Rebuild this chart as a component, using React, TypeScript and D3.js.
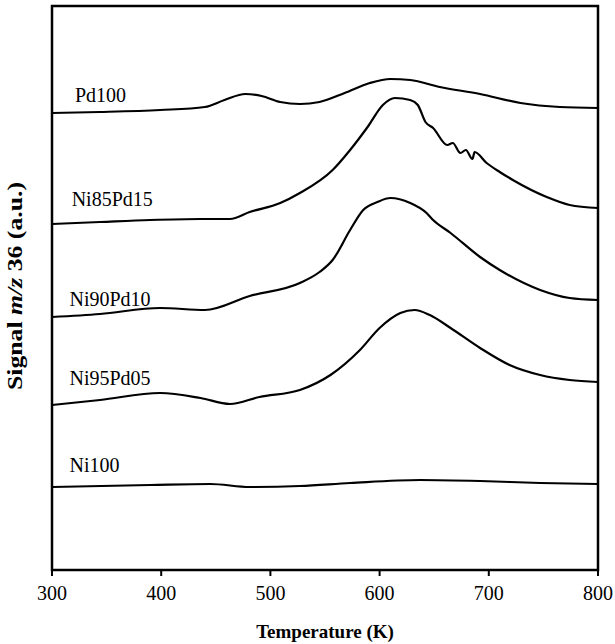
import React from "react";
import * as d3 from "d3";

const xTicks = [300, 400, 500, 600, 700, 800];

const pd100T = [300, 344, 399, 440, 458, 477, 492, 509, 527, 545, 568, 591, 610, 628, 655, 692, 729, 765, 800];
const pd100V = [457, 458, 460, 463, 470, 476, 474, 468, 466, 468, 477, 487, 491, 490, 483, 476, 467, 463, 462];

const ni85T = [300, 344, 390, 436, 463, 481, 509, 527, 557, 573, 589, 603, 614, 628, 635, 642, 649, 662, 667, 674, 679, 685, 687, 698, 710, 722, 753, 774, 800];
const ni85V = [346, 348, 350, 351, 351, 358, 367, 377, 400, 420, 443, 465, 472, 470, 465, 448, 442, 425, 427, 417, 420, 411, 418, 407, 398, 390, 373, 365, 362];

const ni90T = [300, 344, 399, 440, 481, 527, 545, 557, 573, 585, 598, 610, 628, 643, 649, 665, 692, 710, 747, 774, 800];
const ni90V = [253, 256, 262, 260, 274, 287, 298, 310, 340, 360, 368, 372, 367, 357, 350, 337, 313, 300, 280, 272, 270];

const ni95T = [300, 344, 399, 436, 463, 490, 527, 555, 582, 600, 619, 632, 646, 665, 692, 719, 747, 774, 800];
const ni95V = [165, 170, 177, 172, 166, 173, 180, 195, 220, 242, 257, 260, 255, 242, 222, 205, 195, 190, 188];

const ni100T = [300, 390, 445, 481, 527, 573, 637, 692, 747, 800];
const ni100V = [83, 85, 86, 83, 84, 87, 90, 89, 87, 86];

const seriesNames = ["Pd100", "Ni85Pd15", "Ni90Pd10", "Ni95Pd05", "Ni100"];
const seriesT = [pd100T, ni85T, ni90T, ni95T, ni100T];
const seriesV = [pd100V, ni85V, ni90V, ni95V, ni100V];
// label anchor (temperature, signal) for each series label
const labelT = [321, 318, 316, 316, 316];
const labelV = [468, 364, 264, 185, 98];

const W = 615;
const H = 644;
const M = { left: 52, right: 598, top: 6, bottom: 570 };
const FONT = "'Liberation Serif', 'Times New Roman', serif";

export default function App() {
  const x = d3.scaleLinear().domain([300, 800]).range([M.left, M.right]);
  const y = d3.scaleLinear().domain([0, 564]).range([M.bottom, M.top]);
  const line = d3
    .line<[number, number]>()
    .x((d) => x(d[0]))
    .y((d) => y(d[1]))
    .curve(d3.curveMonotoneX);

  return (
    <svg
      width={W}
      height={H}
      style={{ position: "absolute", left: 0, top: 0, background: "#fff" }}
      fontFamily={FONT}
    >
      <rect x={0} y={0} width={W} height={H} fill="#fff" />
      {seriesT.map((ts, i) => (
        <path
          key={i}
          d={line(ts.map((t, j) => [t, seriesV[i][j]]) as [number, number][]) || ""}
          fill="none"
          stroke="#000"
          strokeWidth={2.2}
          strokeLinejoin="round"
        />
      ))}
      {seriesNames.map((n, i) => (
        <text key={n} x={x(labelT[i])} y={y(labelV[i])} fontSize={20} fill="#000">
          {n}
        </text>
      ))}
      <rect
        x={M.left}
        y={M.top}
        width={M.right - M.left}
        height={M.bottom - M.top}
        fill="none"
        stroke="#000"
        strokeWidth={2.5}
      />
      {xTicks.map((t) => (
        <g key={t}>
          <line x1={x(t)} x2={x(t)} y1={M.bottom} y2={M.bottom + 6} stroke="#000" strokeWidth={2} />
          <text x={x(t)} y={M.bottom + 30} fontSize={20} textAnchor="middle" fill="#000">
            {t}
          </text>
        </g>
      ))}
      <text
        x={(M.left + M.right) / 2}
        y={638}
        fontSize={19}
        fontWeight="bold"
        textAnchor="middle"
        fill="#000"
      >
        Temperature (K)
      </text>
      <text
        transform={`translate(22, 286) rotate(-90)`}
        fontSize={21}
        fontWeight="bold"
        textAnchor="middle"
        fill="#000"
        textLength={208}
        lengthAdjust="spacingAndGlyphs"
      >
        Signal <tspan fontStyle="italic">m/z</tspan> 36 (a.u.)
      </text>
    </svg>
  );
}
